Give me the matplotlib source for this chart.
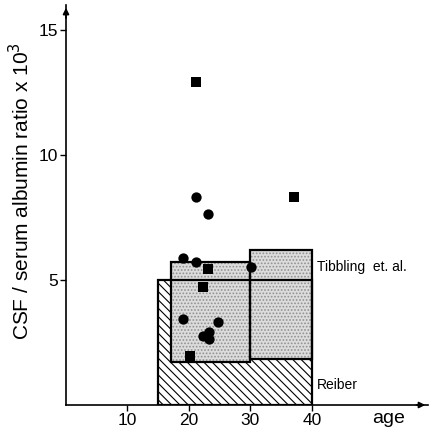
import matplotlib
matplotlib.use("Agg")
import matplotlib.pyplot as plt
from matplotlib.patches import Rectangle

matplotlib.rcParams['font.family'] = ['Liberation Sans', 'DejaVu Sans']
matplotlib.rcParams['hatch.linewidth'] = 0.8

# Reference ranges (age from, age to, ratio low, ratio high)
reiber_range = (15, 40, 0.0, 5.0)
tibbling_ranges = [(17.1, 30, 1.72, 5.7), (30, 40, 1.84, 6.2)]

# Patient values: age, CSF/serum albumin ratio x 10^3
circle_age = [19.0, 21.2, 30.1, 19.0, 24.8, 22.3, 23.3, 23.3, 21.1, 23.1]
circle_ratio = [5.87, 5.73, 5.53, 3.43, 3.33, 2.76, 2.93, 2.63, 8.32, 7.64]
square_age = [23.1, 22.3, 20.1, 37.1, 21.2]
square_ratio = [5.44, 4.71, 1.96, 8.32, 12.93]

x_ticks = [10, 20, 30, 40]
y_ticks = [5, 10, 15]

fig = plt.figure(figsize=(4.3, 4.32), dpi=100)
ax = fig.add_axes([0.1535, 0.0625, 0.842, 0.926])
ax.set_xlim(0, 58.9)
ax.set_ylim(0, 16)

# Reiber box: hatched
x0, x1, y0, y1 = reiber_range
ax.add_patch(Rectangle((x0, y0), x1 - x0, y1 - y0, facecolor='white',
                       edgecolor='black', hatch='\\\\\\\\', lw=0, zorder=1))

# Tibbling boxes: stippled grey
for a, b, lo, hi in tibbling_ranges:
    ax.add_patch(Rectangle((a, lo), b - a, hi - lo, facecolor='#dcdcdc',
                           edgecolor='#909090', hatch='.....', lw=0, zorder=2))
    ax.add_patch(Rectangle((a, lo), b - a, hi - lo, facecolor='none',
                           edgecolor='black', lw=1.6, zorder=3))

# Reiber outline on top
ax.add_patch(Rectangle((x0, y0), x1 - x0, y1 - y0, facecolor='none',
                       edgecolor='black', lw=1.6, zorder=3))

ax.scatter(circle_age, circle_ratio, marker='o', s=55, color='black',
           zorder=5, linewidths=0)
ax.scatter(square_age, square_ratio, marker='s', s=48, color='black',
           zorder=5, linewidths=0)

ax.text(40.8, 5.52, 'Tibbling  et. al.', fontsize=10, va='center', ha='left')
ax.text(40.8, 0.8, 'Reiber', fontsize=10, va='center', ha='left')

for s in ['top', 'right']:
    ax.spines[s].set_visible(False)
for s in ['left', 'bottom']:
    ax.spines[s].set_linewidth(1.2)

ax.annotate('', xy=(1.0, 0), xytext=(0.96, 0), xycoords='axes fraction',
            arrowprops=dict(arrowstyle='-|>', color='black', lw=1.2,
                            mutation_scale=9))
ax.annotate('', xy=(0, 1.0), xytext=(0, 0.96), xycoords='axes fraction',
            arrowprops=dict(arrowstyle='-|>', color='black', lw=1.2,
                            mutation_scale=9))

ax.set_xticks(x_ticks)
ax.set_yticks(y_ticks)
ax.tick_params(axis='both', labelsize=12.5, length=4, width=1, pad=2)

ax.set_ylabel('CSF / serum albumin ratio x 10$^{3}$', fontsize=15, va='center')
ax.yaxis.set_label_coords(-0.125, 0.535)
ax.text(52.5, -0.52, 'age', fontsize=14, ha='center', va='center')

fig.savefig('out.png', dpi=100)
